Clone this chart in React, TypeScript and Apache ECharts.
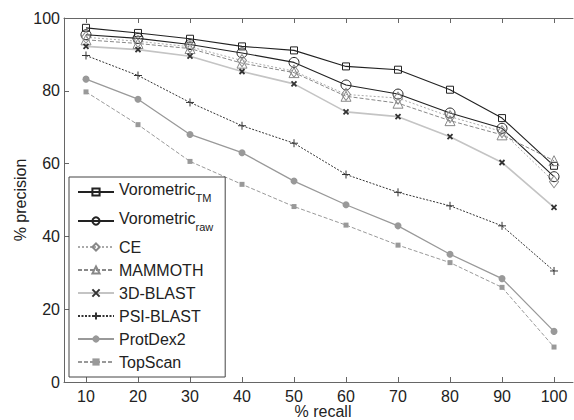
import React, { useEffect, useRef } from "react";
import * as echarts from "echarts";

const FONT = "'Liberation Sans', Arial, Helvetica, sans-serif";

const recall = [10, 20, 30, 40, 50, 60, 70, 80, 90, 100];
const xTickValues = [10, 20, 30, 40, 50, 60, 70, 80, 90, 100];

const voroTM = [97.3, 95.9, 94.3, 92.2, 91.1, 86.7, 85.8, 80.3, 72.5, 59.4];
const voroRaw = [95.4, 94.4, 92.7, 90.4, 87.8, 81.6, 79.1, 73.9, 69.7, 56.4];
const ce = [94.7, 93.6, 92.1, 88.3, 85.4, 79.0, 78.0, 72.9, 68.8, 55.0];
const mammoth = [94.0, 93.0, 91.6, 87.6, 85.0, 78.5, 76.6, 71.8, 67.9, 60.8];
const blast3d = [92.2, 91.3, 89.5, 85.3, 81.9, 74.2, 72.9, 67.4, 60.3, 48.0];
const psiBlast = [89.7, 84.2, 76.8, 70.4, 65.6, 57.0, 52.1, 48.4, 42.9, 30.5];
const protDex2 = [83.2, 77.7, 68.0, 63.0, 55.2, 48.7, 42.9, 35.1, 28.4, 13.9];
const topScan = [79.7, 70.7, 60.6, 54.3, 48.2, 43.1, 37.6, 32.8, 26.0, 9.6];

const seriesNames = [
  "Vorometric_TM",
  "Vorometric_raw",
  "CE",
  "MAMMOTH",
  "3D-BLAST",
  "PSI-BLAST",
  "ProtDex2",
  "TopScan",
];

const pair = (ys: number[]) => recall.map((x, i) => [x, ys[i]]);

export default function App() {
  const ref = useRef<HTMLDivElement>(null);
  useEffect(() => {
    if (!ref.current) return;
    const chart = echarts.init(ref.current, undefined, { renderer: "svg" });

    const mk = (
      name: string,
      ys: number[],
      lineColor: string,
      lineType: any,
      lineWidth: number,
      symbol: string,
      symbolSize: any,
      fill: string,
      border: string,
      borderWidth: number
    ) => ({
      name,
      type: "line",
      data: pair(ys),
      showSymbol: true,
      showAllSymbol: true,
      symbol,
      symbolSize,
      lineStyle: { color: lineColor, type: lineType, width: lineWidth },
      itemStyle: { color: fill, borderColor: border, borderWidth },
      emphasis: { disabled: true },
    });

    const xPath = "path://M0,0L10,10M10,0L0,10";
    const plusPath = "path://M5,0L5,10M0,5L10,5";

    const series = [
      mk(seriesNames[0], voroTM, "#222", "solid", 1.1, "rect", 7, "transparent", "#222", 1),
      mk(seriesNames[1], voroRaw, "#222", "solid", 1.1, "circle", 10, "transparent", "#222", 1),
      mk(seriesNames[2], ce, "#aaa", [2, 2], 1, "diamond", [9, 12], "transparent", "#888", 1),
      mk(seriesNames[3], mammoth, "#888", [4, 2], 1, "triangle", 10, "transparent", "#888", 1),
      mk(seriesNames[4], blast3d, "#c4c4c4", "solid", 1.6, xPath, 5, "transparent", "#333", 1.8),
      mk(seriesNames[5], psiBlast, "#333", [2, 1.5], 1, plusPath, 8, "transparent", "#333", 1),
      mk(seriesNames[6], protDex2, "#999", "solid", 1.3, "circle", 7, "#999", "#999", 0),
      mk(seriesNames[7], topScan, "#999", [4, 2], 1, "rect", 5, "#999", "#999", 0),
    ];

    const axisLineStyle = { color: "#666", width: 1 };

    chart.setOption({
      animation: false,
      backgroundColor: "#fff",
      textStyle: { fontFamily: FONT },
      grid: {
        left: 64,
        right: 1,
        top: 18,
        bottom: 38,
        containLabel: false,
        outerBoundsMode: "none",
      },
      legend: {
        orient: "vertical",
        left: 69,
        top: 177,
        padding: [4, 12, 7, 8],
        itemGap: 7,
        itemWidth: 36,
        itemHeight: 9,
        borderColor: "#444",
        borderWidth: 1,
        backgroundColor: "#fff",
        selectedMode: false,
        data: seriesNames,
        formatter: (name: string) => {
          if (name === "Vorometric_TM") return "{b|Vorometric}{s|TM}";
          if (name === "Vorometric_raw") return "{b|Vorometric}{s|raw}";
          return name;
        },
        textStyle: {
          fontFamily: FONT,
          fontSize: 16,
          color: "#222",
          rich: {
            b: { fontFamily: FONT, fontSize: 16, color: "#222", verticalAlign: "top" },
            s: {
              fontFamily: FONT,
              fontSize: 11,
              color: "#222",
              verticalAlign: "bottom",
              lineHeight: 22,
            },
          },
        },
      },
      xAxis: [
        {
          type: "value",
          position: "bottom",
          min: 5.77,
          max: 103.65,
          axisLine: { show: true, onZero: false, lineStyle: axisLineStyle },
          axisTick: {
            show: true,
            inside: true,
            length: 5,
            customValues: xTickValues,
            lineStyle: axisLineStyle,
          },
          axisLabel: {
            customValues: xTickValues,
            fontSize: 16,
            color: "#222",
            margin: 6,
            fontFamily: FONT,
          },
          splitLine: { show: false },
          name: "% recall",
          nameLocation: "middle",
          nameGap: 21,
          nameMoveOverlap: false,
          nameTextStyle: {
            fontSize: 16,
            color: "#222",
            fontFamily: FONT,
            padding: [0, 0, 0, 9],
          },
        },
        {
          type: "value",
          position: "top",
          min: 5.77,
          max: 103.65,
          axisLine: { show: true, onZero: false, lineStyle: axisLineStyle },
          axisTick: {
            show: true,
            inside: true,
            length: 5,
            customValues: xTickValues,
            lineStyle: axisLineStyle,
          },
          axisLabel: { show: false },
          splitLine: { show: false },
        },
      ],
      yAxis: {
        type: "value",
        min: 0,
        max: 100,
        interval: 20,
        axisLine: { show: true, onZero: false, lineStyle: axisLineStyle },
        axisTick: { show: true, inside: true, length: 5, lineStyle: axisLineStyle },
        axisLabel: { fontSize: 16, color: "#222", margin: 4, fontFamily: FONT },
        splitLine: { show: false },
        name: "% precision",
        nameLocation: "middle",
        nameGap: 36,
        nameMoveOverlap: false,
        nameTextStyle: { fontSize: 16, color: "#222", fontFamily: FONT },
      },
      series,
    });
    return () => chart.dispose();
  }, []);

  return (
    <div
      ref={ref}
      style={{
        position: "fixed",
        left: 0,
        top: 0,
        width: 574,
        height: 420,
        background: "#fff",
      }}
    />
  );
}
